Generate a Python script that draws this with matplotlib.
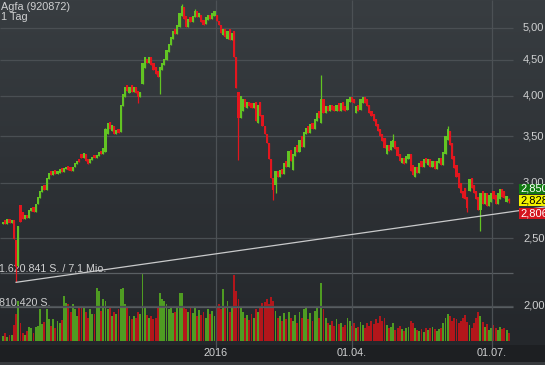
import numpy as np
import matplotlib
matplotlib.use("Agg")
import matplotlib.pyplot as plt
from matplotlib.patches import Rectangle
from matplotlib.transforms import blended_transform_factory, IdentityTransform

plt.rcParams['font.family'] = ['Liberation Sans', 'DejaVu Sans']

# ---------------- data ----------------
TITLE = "Agfa (920872)"
PERIOD = "1 Tag"

open_ = [
    2.62, 2.65, 2.62, 2.66, 2.63, 2.65, 2.48, 2.28, 2.79, 2.72,
    2.66, 2.70, 2.67, 2.73, 2.77, 2.72, 2.80, 2.85, 2.91, 2.98,
    2.93, 3.04, 3.12, 3.08, 3.13, 3.09, 3.10, 3.15, 3.11, 3.14,
    3.17, 3.16, 3.12, 3.16, 3.19, 3.24, 3.30, 3.26, 3.30, 3.24,
    3.20, 3.23, 3.29, 3.26, 3.28, 3.33, 3.30, 3.32, 3.52, 3.67,
    3.56, 3.62, 3.52, 3.58, 3.55, 3.86, 3.98, 4.14, 4.04, 4.14,
    4.05, 4.12, 4.06, 3.98, 4.15, 4.38, 4.52, 4.46, 4.55, 4.45,
    4.40, 4.34, 4.26, 4.36, 4.42, 4.50, 4.62, 4.72, 4.82, 4.98,
    4.90, 5.02, 5.20, 5.36, 5.20, 5.02, 5.18, 5.10, 5.18, 5.28,
    5.18, 5.22, 5.14, 5.06, 5.14, 5.22, 5.15, 5.20, 5.22, 5.12,
    5.05, 4.88, 4.98, 4.82, 4.98, 4.80, 4.95, 4.55, 4.05, 3.72,
    3.80, 3.95, 3.84, 3.92, 3.90, 3.84, 3.92, 3.66, 3.92, 3.75,
    3.62, 3.52, 3.42, 3.25, 3.05, 2.98, 3.12, 3.06, 3.14, 3.09,
    3.22, 3.16, 3.34, 3.13, 3.28, 3.40, 3.32, 3.50, 3.38, 3.52,
    3.62, 3.54, 3.65, 3.58, 3.68, 3.80, 3.65, 3.95, 3.78, 3.86,
    3.80, 3.88, 3.86, 3.80, 3.90, 3.80, 3.92, 3.86, 3.82, 3.92,
    3.98, 3.96, 3.78, 3.88, 3.82, 3.90, 3.98, 3.95, 3.88, 3.80,
    3.76, 3.70, 3.64, 3.58, 3.52, 3.48, 3.30, 3.40, 3.34, 3.38,
    3.44, 3.38, 3.30, 3.20, 3.26, 3.20, 3.24, 3.30, 3.18, 3.06,
    3.16, 3.10, 3.22, 3.16, 3.26, 3.18, 3.24, 3.16, 3.22, 3.14,
    3.20, 3.26, 3.18, 3.30, 3.46, 3.56, 3.42, 3.28, 3.18, 3.10,
    3.00, 2.92, 2.95, 2.86, 2.92, 3.05, 2.98, 2.92, 2.86, 2.74,
    2.92, 2.80, 2.90, 2.78, 2.82, 2.92, 2.88, 2.80, 2.84, 2.94,
    2.92, 2.82, 2.84,
]
close = [
    2.64, 2.62, 2.66, 2.63, 2.65, 2.49, 2.27, 2.60, 2.64, 2.66,
    2.70, 2.67, 2.74, 2.76, 2.72, 2.80, 2.86, 2.92, 2.97, 2.93,
    3.05, 3.10, 3.08, 3.12, 3.09, 3.12, 3.14, 3.11, 3.15, 3.16,
    3.13, 3.12, 3.16, 3.20, 3.22, 3.21, 3.26, 3.31, 3.22, 3.19,
    3.24, 3.27, 3.26, 3.29, 3.32, 3.30, 3.36, 3.58, 3.65, 3.58,
    3.63, 3.52, 3.57, 3.54, 3.88, 4.02, 4.12, 4.06, 4.12, 4.05,
    4.12, 4.04, 3.98, 4.05, 4.45, 4.55, 4.45, 4.55, 4.42, 4.36,
    4.30, 4.26, 4.40, 4.45, 4.52, 4.65, 4.75, 4.85, 4.95, 4.90,
    5.05, 5.25, 5.38, 5.15, 5.02, 5.15, 5.10, 5.20, 5.28, 5.18,
    5.25, 5.10, 5.05, 5.18, 5.22, 5.15, 5.25, 5.28, 5.12, 5.05,
    4.92, 4.98, 4.85, 4.95, 4.80, 4.92, 4.55, 4.10, 3.72, 4.00,
    3.95, 3.85, 3.92, 3.86, 3.84, 3.90, 3.68, 3.88, 3.74, 3.62,
    3.52, 3.42, 3.25, 3.05, 2.93, 3.12, 3.06, 3.13, 3.09, 3.20,
    3.16, 3.33, 3.22, 3.30, 3.38, 3.32, 3.45, 3.38, 3.55, 3.60,
    3.54, 3.64, 3.58, 3.70, 3.78, 3.72, 3.95, 3.78, 3.86, 3.80,
    3.88, 3.82, 3.80, 3.88, 3.80, 3.90, 3.82, 3.80, 3.96, 3.98,
    3.92, 3.90, 3.86, 3.80, 3.96, 3.98, 3.90, 3.86, 3.78, 3.74,
    3.68, 3.62, 3.56, 3.50, 3.44, 3.36, 3.40, 3.33, 3.44, 3.46,
    3.35, 3.28, 3.22, 3.26, 3.19, 3.28, 3.30, 3.12, 3.08, 3.16,
    3.10, 3.20, 3.16, 3.24, 3.20, 3.24, 3.16, 3.22, 3.14, 3.22,
    3.26, 3.18, 3.32, 3.50, 3.58, 3.40, 3.25, 3.15, 3.06, 2.95,
    2.90, 2.85, 2.84, 2.76, 3.04, 2.95, 2.90, 2.84, 2.74, 2.90,
    2.80, 2.90, 2.78, 2.88, 2.90, 2.84, 2.80, 2.90, 2.94, 2.86,
    2.85, 2.87, 2.828,
]
wick_high = {47: 3.60, 82: 5.42, 88: 5.32, 146: 4.28, 179: 3.52, 204: 3.62, 232: 2.85}
wick_low = {6: 2.16, 62: 3.90, 72: 4.02, 108: 3.23, 124: 2.83, 125: 2.90,
            213: 2.72, 219: 2.56, 232: 2.806}

volume_k = [
    120, 180, 100, 150, 140,   380, 640, 950, 420, 200,
    150, 250, 330, 300, 200,   330, 360, 760, 400, 450,
    760, 520, 360, 530, 300,   480, 420, 500, 1070, 900,
    880, 700, 880, 760, 600,   820, 840, 780, 700, 540,
    760, 650, 640, 1260, 1200, 720, 1000, 960, 760, 780,
    600, 700, 640, 760, 1240,  1260, 880, 800, 600, 520,
    600, 560, 700, 640, 1620,  820, 620, 540, 600, 520,
    560, 840, 1140, 1000, 960, 880, 760, 800, 660, 700,
    780, 1150, 1140, 820, 760, 700, 780, 660, 830, 600,
    740, 620, 700, 560, 760,   640, 720, 600, 820, 880,
    760, 1240, 840, 960, 700,  780, 1580, 1200, 1000, 820,
    700, 560, 620, 500, 640,   560, 760, 700, 820, 900,
    940, 1000, 880, 1060, 960, 720, 560, 600, 480, 660,
    520, 700, 560, 480, 620,   440, 700, 560, 760, 820,
    520, 660, 480, 720, 840,   560, 1380, 760, 560, 420,
    380, 480, 360, 520, 400,   440, 330, 380, 560, 480,
    360, 420, 300, 340, 460,   380, 300, 420, 360, 480,
    400, 520, 440, 600, 480,   560, 380, 300, 340, 420,
    260, 320, 360, 280, 240,   300, 340, 480, 420, 300,
    260, 240, 280, 220, 320,   260, 300, 340, 280, 240,
    280, 300, 420, 560, 640,   600, 480, 560, 520, 440,
    480, 560, 620, 460, 380,   300, 420, 540, 700, 600,
    460, 340, 400, 260, 300,   380, 300, 260, 340, 280,
    320, 260, 180,
]

price_ticks = [2.0, 2.5, 3.0, 3.5, 4.0, 4.5, 5.0]
price_tick_labels = ["2,00", "2,50", "3,00", "3,50", "4,00", "4,50", "5,00"]
date_tick_pos = [97.7, 160.0, 224.3]
date_tick_labels = ["2016", "01.04.", "01.07."]
vol_levels_k = [1620.841, 810.420]
vol_level_labels = ["1.620.841 S. / 7,1 Mio.", "810.420 S."]
trend_x = [6, 248.6]
trend_y = [2.16, 2.77]
last_price = 2.828
last_labels = ["2,850", "2,828", "2,806"]

# ---------------- layout (pixels) ----------------
W, H = 545, 365
X0, STEP = 3.0, 2.18
P_REF, Y_REF, PX_PER_LN = 5.0, 28.0, 303.0
VOL_BASE_Y, VOL_MAX_PX = 341.0, 68.0

GREEN = '#62c423'
RED = '#e3161e'
VGREEN = '#4f9c22'
VRED = '#b3161b'
GRID = '#4a4f53'
TXT = '#cfd0d1'

fig = plt.figure(figsize=(W / 100, H / 100), dpi=100)

# background gradient
ax_bg = fig.add_axes([0, 0, 1, 1], zorder=0)
rows = np.arange(H)
top = np.array([56, 61, 65]) / 255
mid = np.array([36, 39, 43]) / 255
low = np.array([29, 31, 34]) / 255
t = np.clip(rows / 345.0, 0, 1)[:, None]
grad = top * (1 - t) + mid * t
grad[345:] = low
grad[362:] = np.array([55, 58, 61]) / 255
ax_bg.imshow(grad[:, None, :], extent=[0, W, 0, H], aspect='auto', origin='upper')
ax_bg.set_xlim(0, W)
ax_bg.set_ylim(0, H)
ax_bg.axis('off')

xlim = (-X0 / STEP, (W - X0) / STEP)
x_grid_end = (513 - X0) / STEP

def px_to_price(y):
    return P_REF * np.exp(-(y - Y_REF) / PX_PER_LN)

# volume axes
ax_v = fig.add_axes([0, 0, 1, 1], zorder=1)
ax_v.patch.set_visible(False)
k = vol_levels_k[0] / VOL_MAX_PX
ax_v.set_xlim(*xlim)
ax_v.set_ylim(-(H - VOL_BASE_Y) * k, VOL_BASE_Y * k)
ax_v.axis('off')

# price axes
ax_p = fig.add_axes([0, 0, 1, 1], zorder=2)
ax_p.patch.set_visible(False)
ax_p.set_yscale('log')
ax_p.set_xlim(*xlim)
ax_p.set_ylim(px_to_price(H), px_to_price(0))
ax_p.axis('off')

n = len(close)
idx = np.arange(n)
O = np.array(open_, dtype=float)
C = np.array(close, dtype=float)
up = C >= O

# gridlines
ax_p.hlines(price_ticks, xlim[0], x_grid_end, colors=GRID, lw=0.9, zorder=1)
ax_p.vlines(date_tick_pos, px_to_price(349), px_to_price(0), colors='#4c5155', lw=0.9, zorder=1)

# volume
vcols = [VGREEN if u else VRED for u in up]
ax_v.bar(idx, volume_k, width=0.85, color=vcols, linewidth=0, zorder=2)
ax_v.hlines(vol_levels_k, xlim[0], x_grid_end, colors='#5a5f63', lw=0.9, zorder=3)
for lvl, lab in zip(vol_levels_k, vol_level_labels):
    ax_v.annotate(lab, xy=(xlim[0], lvl), xytext=(-1, 4.5), textcoords='offset pixels',
                  va='center', ha='left', fontsize=7.7, color=TXT, zorder=4)

# candles
body_lo = np.minimum(O, C)
body_hi = np.maximum(O, C)
hi = body_hi.copy()
lo = body_lo.copy()
for i, v in wick_high.items():
    hi[i] = max(hi[i], v)
for i, v in wick_low.items():
    lo[i] = min(lo[i], v)
ccols = [GREEN if u else RED for u in up]
ax_p.vlines(idx, lo, hi, colors=ccols, lw=0.9, zorder=3)
ax_p.bar(idx, body_hi - body_lo, bottom=body_lo, width=1.0, color=ccols,
         linewidth=0, zorder=4)

# trend line
ax_p.plot(trend_x, trend_y, color='#c9cacb', lw=0.9, zorder=5)

# price tick labels (right)
x_lab = (523 - X0) / STEP
for p, lab in zip(price_ticks, price_tick_labels):
    ax_p.text(x_lab, p, lab, va='center', ha='left', fontsize=8, color=TXT,
              clip_on=False, zorder=6)

# date labels
trans = blended_transform_factory(ax_p.transData, fig.transFigure)
for pos, lab in zip(date_tick_pos, date_tick_labels):
    ax_p.text(pos, 1 - 353 / H, lab, transform=trans, va='center', ha='center',
              fontsize=7.8, color=TXT)

# title
fig.text(1 / W, 1 - 6.5 / H, TITLE, va='center', ha='left', fontsize=7.8, color=TXT)
fig.text(1 / W, 1 - 17 / H, PERIOD, va='center', ha='left', fontsize=7.8, color=TXT)

# last-price boxes
fig.canvas.draw()
yc = ax_p.transData.transform((0, last_price))[1]
box_specs = [(11.7, '#127a12', 'white'), (0.0, '#f2f200', 'black'), (-12.6, '#d4141e', 'white')]
for (dy, fc, tc), lab in zip(box_specs, last_labels):
    rect = Rectangle((519, yc + dy - 5.4), 30, 10.8, transform=IdentityTransform(),
                     facecolor=fc, edgecolor='none', zorder=10)
    fig.add_artist(rect)
    fig.text(520, yc + dy, lab, transform=IdentityTransform(), va='center', ha='left',
             fontsize=8, color=tc, zorder=11)

fig.savefig('out.png', dpi=100)
